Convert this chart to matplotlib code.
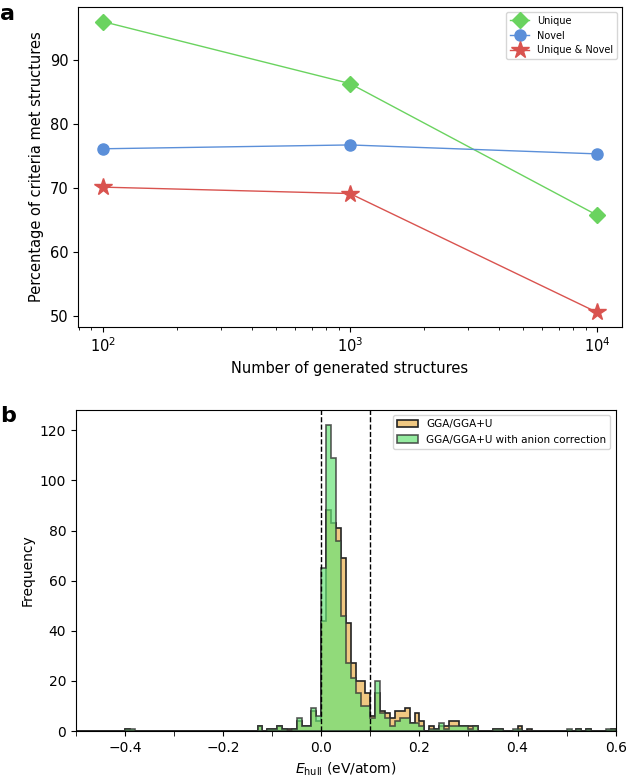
import matplotlib
matplotlib.use('Agg')
import matplotlib.pyplot as plt
import numpy as np
from matplotlib.ticker import MultipleLocator

# panel a
n_generated = [100, 1000, 10000]
unique = [96.0, 86.3, 65.7]
novel = [76.1, 76.7, 75.3]
unique_novel = [70.1, 69.1, 50.5]

# panel b: histogram counts, bins of 0.01 eV/atom (left edge of each non-empty bin)
bin_left = [-0.40, -0.39, -0.13, -0.11, -0.10, -0.09, -0.08, -0.07, -0.06, -0.05,
            -0.04, -0.03, -0.02, -0.01, 0.00, 0.01, 0.02, 0.03, 0.04, 0.05,
            0.06, 0.07, 0.08, 0.09, 0.10, 0.11, 0.12, 0.13, 0.14, 0.15,
            0.16, 0.17, 0.18, 0.19, 0.20, 0.22, 0.23, 0.24, 0.25, 0.26,
            0.27, 0.28, 0.29, 0.30, 0.31, 0.35, 0.36, 0.39, 0.40, 0.42,
            0.50, 0.52, 0.54, 0.58, 0.59]
gga = [1, 0, 2, 1, 1, 2, 1, 1, 1, 4,
       2, 2, 8, 4, 44, 88, 83, 81, 69, 43,
       27, 20, 20, 15, 6, 15, 8, 7, 5, 8,
       8, 9, 3, 7, 4, 2, 1, 2, 2, 4,
       4, 2, 2, 2, 2, 1, 1, 0, 2, 1,
       0, 1, 1, 0, 1]
gga_anion = [1, 1, 2, 1, 1, 2, 1, 0, 1, 5,
             2, 2, 9, 6, 65, 122, 109, 76, 46, 27,
             21, 15, 10, 10, 5, 20, 7, 5, 2, 4,
             5, 5, 3, 3, 2, 1, 1, 3, 1, 2,
             2, 2, 2, 1, 2, 1, 1, 1, 1, 0,
             1, 1, 1, 1, 1]

edges = np.round(np.arange(-0.5, 0.6001, 0.01), 2)
centers = np.array(bin_left) + 0.005

fig = plt.figure(figsize=(6.26, 7.78), dpi=100)
ax1 = fig.add_axes([0.1246, 0.5797, 0.869, 0.4113])
ax2 = fig.add_axes([0.1214, 0.0604, 0.8621, 0.4126])

ax1.plot(n_generated, unique, color='#6ad35f', marker='D', markersize=8, lw=1, label='Unique')
ax1.plot(n_generated, novel, color='#5b8fd9', marker='o', markersize=8, lw=1, label='Novel')
ax1.plot(n_generated, unique_novel, color='#d9534f', marker='*', markersize=13, lw=1, label='Unique & Novel')
ax1.set_xscale('log')
ax1.set_xlabel('Number of generated structures', fontsize=10.5)
ax1.set_ylabel('Percentage of criteria met structures', fontsize=10.5)
ax1.tick_params(labelsize=10.5)
ax1.legend(loc='upper right', fontsize=7)

ax2.hist(centers, bins=edges, weights=gga, histtype='stepfilled',
         facecolor='#f0c882', edgecolor='#222222', lw=1.2, label='GGA/GGA+U')
ax2.hist(centers, bins=edges, weights=gga_anion, histtype='stepfilled',
         facecolor=(0.41, 0.89, 0.47, 0.7), edgecolor=(0.2, 0.2, 0.2, 0.8), lw=1.2,
         label='GGA/GGA+U with anion correction')
ax2.axvline(0.0, color='black', ls='--', lw=1)
ax2.axvline(0.1, color='black', ls='--', lw=1)
ax2.set_xlim(-0.5, 0.6)
ax2.xaxis.set_major_locator(MultipleLocator(0.2))
ax2.xaxis.set_minor_locator(MultipleLocator(0.1))
ax2.tick_params(axis='x', which='minor', length=3.5)
ax2.set_xlabel(r'$E_{\mathrm{hull}}$ (eV/atom)', fontsize=10)
ax2.set_ylabel('Frequency', fontsize=10)
ax2.tick_params(labelsize=10)
ax2.legend(loc='upper right', fontsize=7.5)

fig.text(0.0, 0.995, 'a', fontsize=16, fontweight='bold', va='top', ha='left')
fig.text(0.0, 0.478, 'b', fontsize=16, fontweight='bold', va='top', ha='left')

fig.savefig('out.png', dpi=100)
